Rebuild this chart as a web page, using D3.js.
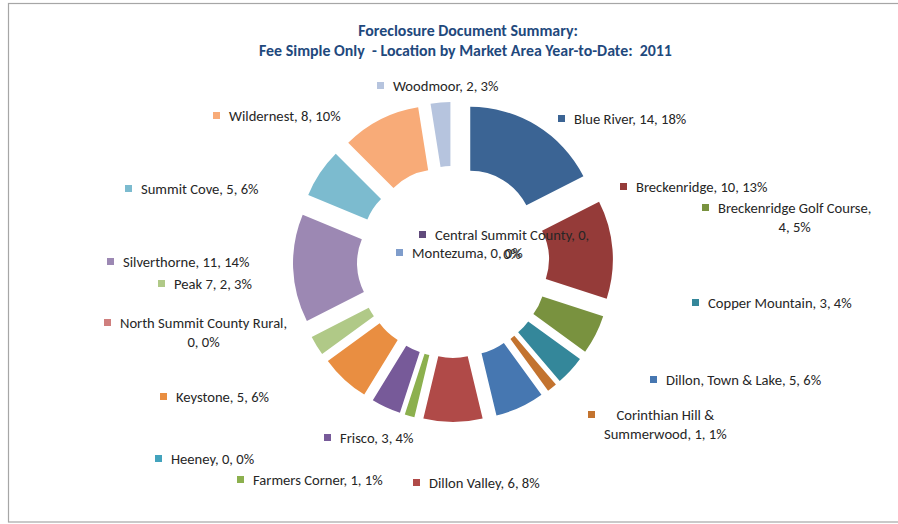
<!DOCTYPE html>
<html>
<head>
<meta charset="utf-8">
<script src="https://cdn.jsdelivr.net/npm/d3@7"></script>
<style>
  body { margin: 0; background: #fff; }
  svg { display: block; font-family: Carlito, Lato, "Open Sans", sans-serif; }
</style>
</head>
<body>
<svg id="chart" width="898" height="524"></svg>
<script>
// market areas, clockwise from 12 o'clock
const areas = [
  'Blue River', 'Breckenridge', 'Breckenridge Golf Course', 'Central Summit County',
  'Copper Mountain', 'Corinthian Hill & Summerwood', 'Dillon, Town & Lake', 'Dillon Valley',
  'Farmers Corner', 'Frisco', 'Heeney', 'Keystone', 'Montezuma',
  'North Summit County Rural', 'Peak 7', 'Silverthorne', 'Summit Cove', 'Wildernest', 'Woodmoor',
];
const counts = [14, 10, 4, 0, 3, 1, 5, 6, 1, 3, 0, 5, 0, 0, 2, 11, 5, 8, 2];
const colors = [
  '#3b6494', '#953b39', '#79923f', '#604a7b', '#34879a', '#c3732f', '#4677b1', '#b04a48',
  '#8cb04e', '#775a99', '#43a3bd', '#e98e41', '#7f9dcb', '#cf7f7e', '#b0c987', '#9c88b3',
  '#7cbbcf', '#f8ab78', '#b6c4de',
];
const titleLines = [
  'Foreclosure Document Summary:',
  'Fee Simple Only  - Location by Market Area Year-to-Date:  2011',
];

// where each data label sits: legend key left edge, first line middle,
// and how many words go on the first line when the label wraps
const labelLayout = [
  { x: 558, y: 119 }, { x: 620, y: 187 }, { x: 702, y: 208, split: 3 },
  { x: 419, y: 235, split: 4 }, { x: 692, y: 303 }, { x: 588, y: 415, split: 3 },
  { x: 650, y: 380 }, { x: 413, y: 483 }, { x: 237, y: 480 }, { x: 324, y: 438 },
  { x: 155, y: 459 }, { x: 160, y: 397 }, { x: 396, y: 253 }, { x: 104, y: 323, split: 4 },
  { x: 158, y: 284 }, { x: 107, y: 262 }, { x: 125, y: 189 }, { x: 213, y: 116 },
  { x: 377, y: 86 },
];

const svg = d3.select('#chart');
const cx = 453;
const cy = 262;
const outer = 127;
const inner = 63;
const explode = 33;
const lineH = 19;

svg.append('rect')
  .attr('x', 8.5).attr('y', 3.5)
  .attr('width', 900).attr('height', 518.5)
  .attr('fill', '#fff')
  .attr('stroke', '#a6a6a6')
  .attr('stroke-width', 1.2);

svg.selectAll('text.title')
  .data(titleLines)
  .join('text')
  .attr('class', 'title')
  .attr('x', (d, i) => (i === 0 ? 468 : 465.5))
  .attr('y', (d, i) => 36 + i * 20)
  .attr('text-anchor', 'middle')
  .attr('font-size', 15.9)
  .attr('font-weight', 'bold')
  .attr('fill', '#1f497d')
  .style('white-space', 'pre')
  .text((d) => d);

const total = d3.sum(counts);
const pie = d3.pie().sort(null).value((d) => d.value)
  .startAngle(0).endAngle(2 * Math.PI);
const arc = d3.arc().innerRadius(inner).outerRadius(outer);

const rows = areas.map((name, i) => ({
  name, value: counts[i], color: colors[i], layout: labelLayout[i],
}));
const slices = pie(rows);

svg.append('g')
  .attr('transform', `translate(${cx},${cy})`)
  .selectAll('path')
  .data(slices.filter((d) => d.value > 0))
  .join('path')
  .attr('d', arc)
  .attr('fill', (d) => d.data.color)
  .attr('transform', (d) => {
    const mid = (d.startAngle + d.endAngle) / 2;
    return `translate(${explode * Math.sin(mid)},${-explode * Math.cos(mid)})`;
  });

const pct = (v) => `${Math.round((v / total) * 100)}%`;

const labels = svg.append('g')
  .attr('font-size', 14.6)
  .attr('fill', '#262626');

rows.forEach((d) => {
  const text = `${d.name}, ${d.value}, ${pct(d.value)}`;
  const { x, y, split } = d.layout;
  let lines = [text];
  if (split) {
    const words = text.split(' ');
    lines = [words.slice(0, split).join(' '), words.slice(split).join(' ')];
  }
  labels.append('rect')
    .attr('x', x).attr('y', y - 4)
    .attr('width', 7).attr('height', 7)
    .attr('fill', d.color);
  const tx = x + 16;
  const nodes = lines.map((line, i) => labels.append('text')
    .attr('y', y + i * lineH)
    .attr('dy', '0.35em')
    .text(line));
  const w = d3.max(nodes, (n) => n.node().getComputedTextLength());
  nodes.forEach((n) => n.attr('x', tx + w / 2).attr('text-anchor', 'middle'));
});
</script>
</body>
</html>
